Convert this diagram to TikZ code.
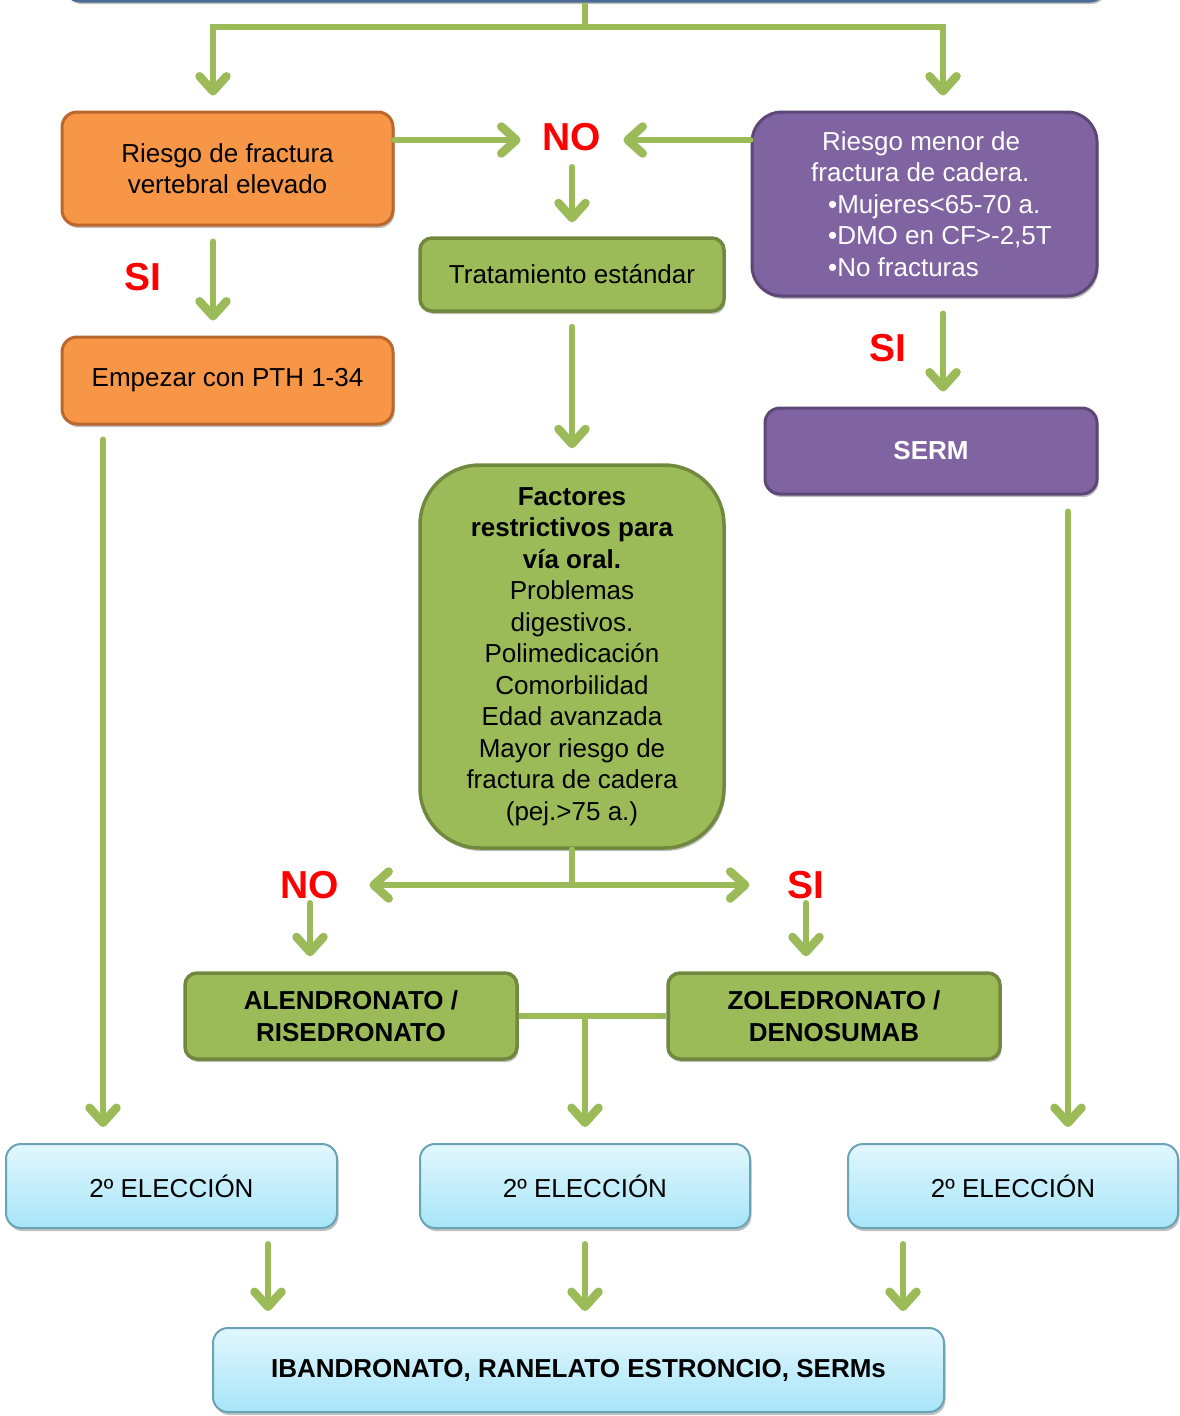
\documentclass[tikz,border=0pt]{standalone}
\usepackage{fontspec}
\setmainfont{Liberation Sans}
\usetikzlibrary{arrows.meta,shadows,calc}
\definecolor{grn}{HTML}{9BBB59}
\definecolor{grnd}{HTML}{71893F}
\definecolor{org}{HTML}{F79646}
\definecolor{orgd}{HTML}{B9672C}
\definecolor{pur}{HTML}{8064A2}
\definecolor{purd}{HTML}{5C4776}
\definecolor{bltop}{HTML}{E2F7FD}
\definecolor{blbot}{HTML}{A6E5F8}
\definecolor{bld}{HTML}{6BA3B6}
\definecolor{topb}{HTML}{4A6B96}
\definecolor{lblred}{HTML}{FF0000}
\begin{document}
\begin{tikzpicture}[x=1pt,y=-1pt,
  box/.style={rounded corners=15pt, draw, line width=3pt, align=center, inner sep=0pt,
    font=\fontsize{26}{31.5}\selectfont,
    drop shadow={shadow xshift=1.5pt, shadow yshift=-3pt, opacity=0.25, fill=black}},
  orangebox/.style={box, fill=org, draw=orgd},
  purplebox/.style={box, fill=pur, draw=purd, text=white, rounded corners=30pt},
  greenbox/.style={box, fill=grn, draw=grnd, line width=3.5pt, rounded corners=12pt},
  bluebox/.style={box, top color=bltop, bottom color=blbot, draw=bld, line width=2pt},
  lbl/.style={text=lblred, font=\bfseries\fontsize{39}{39}\selectfont, inner sep=2pt},
  arr/.style={draw=grn, line width=6pt, line cap=round,
    -{Straight Barb[length=15pt,width=27pt,line width=8.5pt,line cap=round,round]}},
  plain/.style={draw=grn, line width=6pt}
]
\useasboundingbox (0,0) rectangle (1180,1416);

\begin{scope}
\clip (0,0) rectangle (1180,1416);
\node[draw=topb, line width=3pt, rounded corners=15pt, minimum width=1040pt, minimum height=80pt,
  drop shadow={shadow xshift=1.5pt, shadow yshift=-3pt, opacity=0.25, fill=black}, fill=white] (top) at (585,-39) {};
\end{scope}

% boxes
\node[orangebox, minimum width=331pt, minimum height=113pt] (r1) at (227.5,168.5) {Riesgo de fractura\\vertebral elevado};
\node[orangebox, minimum width=331pt, minimum height=87pt] (pth) at (227.5,380.5) {Empezar con PTH 1-34};
\node[purplebox, minimum width=345pt, minimum height=184pt, align=left] (p1) at (924.5,204)
  {\hspace*{25pt}Riesgo menor de\\\hspace*{14pt}fractura de cadera.\\\hspace*{31pt}•Mujeres<65-70 a.\\\hspace*{31pt}•DMO en CF>-2,5T\\\hspace*{31pt}•No fracturas};
\node[purplebox, rounded corners=15pt, minimum width=332pt, minimum height=86pt] (serm) at (931,451) {\textbf{SERM}};
\node[greenbox, minimum width=304pt, minimum height=73pt] (trat) at (572,274.5) {Tratamiento estándar};
\node[greenbox, rounded corners=60pt, minimum width=304pt, minimum height=383pt] (fact) at (572,656.5)
  {\textbf{Factores}\\\textbf{restrictivos para}\\\textbf{vía oral.}\\Problemas\\digestivos.\\Polimedicación\\Comorbilidad\\Edad avanzada\\Mayor riesgo de\\fractura de cadera\\(pej.>75 a.)};
\node[greenbox, minimum width=332pt, minimum height=86pt] (alen) at (351,1016) {\textbf{ALENDRONATO /}\\\textbf{RISEDRONATO}};
\node[greenbox, minimum width=332pt, minimum height=86pt] (zole) at (834,1016) {\textbf{ZOLEDRONATO /}\\\textbf{DENOSUMAB}};
\node[bluebox, minimum width=331pt, minimum height=84pt] (e1) at (171.5,1186) {2º ELECCIÓN};
\node[bluebox, minimum width=330pt, minimum height=84pt] (e2) at (585,1186) {2º ELECCIÓN};
\node[bluebox, minimum width=330pt, minimum height=84pt] (e3) at (1013,1186) {2º ELECCIÓN};
\node[bluebox, minimum width=731pt, minimum height=84pt] (fin) at (578.5,1370) {\textbf{IBANDRONATO, RANELATO ESTRONCIO, SERMs}};

% labels
\node[lbl] (no1) at (572,137) {NO};
\node[lbl] (si1) at (143,277) {SI};
\node[lbl] (si2) at (888,348) {SI};
\node[lbl] (no2) at (310,885) {NO};
\node[lbl] (si3) at (806,885) {SI};

% connectors
\coordinate (split) at (585,27);
\draw[plain] (top.south) -- (split);
\draw[arr, shorten >=15pt] (split) -| (r1.north -| 213,0);
\draw[arr, shorten >=15pt] (split) -| (p1.north -| 943,0);
\draw[arr, shorten >=20pt] (r1.east |- 0,140) -- (no1.west |- 0,140);
\draw[arr, shorten >=20pt] (p1.west |- 0,140) -- (no1.east |- 0,140);
\draw[arr, shorten <=14pt, shorten >=14pt] (no1.south) -- (trat.north);
\draw[arr, shorten <=15pt, shorten >=15pt] (r1.south -| 213,0) -- (pth.north -| 213,0);
\draw[arr, shorten <=16pt, shorten >=15pt] (p1.south -| 943,0) -- (serm.north -| 943,0);
\draw[arr, shorten <=14pt, shorten >=15pt] (trat.south) -- (fact.north);
\draw[arr, shorten >=28pt] (fact.south) |- (no2.east);
\draw[arr, shorten >=36pt] (fact.south) |- (si3.west);
\draw[arr, shorten <=2pt, shorten >=15pt] (no2.south) -- (alen.north -| no2.south);
\draw[arr, shorten <=2pt, shorten >=15pt] (si3.south) -- (zole.north -| si3.south);
\draw[plain] (alen.east) -- (zole.west);
\coordinate (mid) at (585,1016);
\draw[arr, shorten >=16pt] (mid) -- (e2.north);
\draw[arr, shorten <=14pt, shorten >=16pt] (pth.south -| 103,0) -- (e1.north -| 103,0);
\draw[arr, shorten <=16pt, shorten >=16pt] (serm.south -| 1068,0) -- (e3.north -| 1068,0);
\draw[arr, shorten <=15pt, shorten >=16pt] (e1.south -| 268,0) -- (fin.north -| 268,0);
\draw[arr, shorten <=15pt, shorten >=16pt] (e2.south) -- (fin.north -| e2.south);
\draw[arr, shorten <=15pt, shorten >=16pt] (e3.south -| 903,0) -- (fin.north -| 903,0);
\end{tikzpicture}
\end{document}
